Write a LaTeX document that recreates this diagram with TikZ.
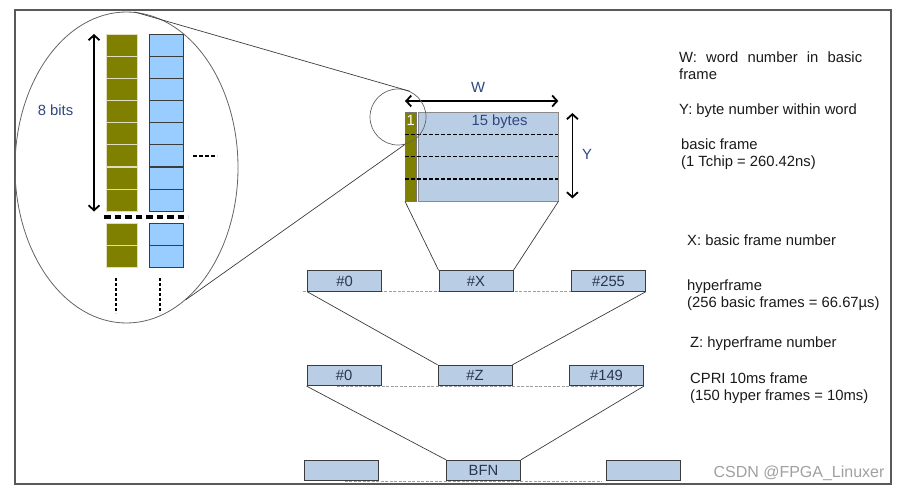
\documentclass[tikz,border=0pt]{standalone}
\usepackage{fontspec}
\setmainfont{Liberation Sans}
\usetikzlibrary{arrows.meta,shapes.geometric,backgrounds,calc}
\definecolor{cpOlive}{HTML}{808000}
\definecolor{cpSky}{HTML}{99CCFF}
\definecolor{cpFrame}{HTML}{B9CDE5}
\definecolor{cpEdge}{HTML}{3C3C3C}
\definecolor{cpInk}{HTML}{2E4780}
\definecolor{cpBoxInk}{HTML}{2A3550}
\definecolor{cpText}{HTML}{1A1A1A}
\definecolor{cpGrey}{HTML}{A0A0A0}
\tikzset{
  cpFont/.style={font=\fontsize{14.8}{17.5}\selectfont},
  oliveCell/.style={
    rectangle,
    draw=cpOlive!25!white,
    fill=cpOlive,
    line width=0.8pt,
    minimum width=31pt,
    minimum height=22pt,
    inner sep=0pt
  },
  skyCell/.style={
    oliveCell,
    draw=cpEdge,
    fill=cpSky,
    minimum width=34pt
  },
  frameBox/.style={
    rectangle,
    draw=cpEdge,
    fill=cpFrame,
    line width=0.8pt,
    minimum width=74pt,
    minimum height=20.5pt,
    inner sep=0pt,
    cpFont,
    text=cpBoxInk
  },
  dimArrow/.style={
    {Straight Barb[length=5pt,width=11pt]}-{Straight Barb[length=5pt,width=11pt]},
    line width=1.8pt,
    draw=black
  },
  zoomLine/.style={
    line width=0.7pt,
    draw=cpEdge
  },
  wordCut/.style={
    line width=1.3pt,
    dash pattern=on 4pt off 2pt
  },
  baseDash/.style={
    line width=0.9pt,
    draw=cpGrey,
    dash pattern=on 3pt off 1.5pt
  },
  noteText/.style={
    anchor=north west,
    inner sep=0pt,
    align=left,
    text=cpText,
    cpFont
  },
  inkLabel/.style={
    inner sep=0pt,
    text=cpInk,
    cpFont
  }
}

\begin{document}
\begin{tikzpicture}[x=1pt,y=-1pt]
  \useasboundingbox (0,0) rectangle (900,492);
  \draw[cpEdge!85, line width=1.2pt] (15,10) rectangle (891,484);

  % magnified view of the first word
  \node[ellipse, draw=cpEdge!80, line width=0.8pt, minimum width=223pt,
    minimum height=311pt, inner sep=0pt] (ell) at (126.5,167.5) {};
  \foreach \i in {0,...,7} {
    \node[oliveCell, anchor=north west] (olive\i) at (106,{34+22.1*\i}) {};
    \node[skyCell, anchor=north west] (sky\i) at (149,{34+22.1*\i}) {};
  }
  \foreach \i in {0,1} {
    \node[oliveCell, anchor=north west] (oliveLow\i) at (106,{223+22*\i}) {};
    \node[skyCell, anchor=north west] (skyLow\i) at (149,{223+22*\i}) {};
  }
  \draw[dimArrow] ([xshift=-12pt]olive0.north west) -- ([xshift=-12pt]olive7.south west);
  \node[inkLabel] (bitsLbl) at (55.5,110) {8 bits};

  \coordinate (cutL) at (104,217);
  \coordinate (cutR) at (188,217);
  \draw[line width=4.5pt, dash pattern=on 6.5pt off 4pt] (cutL) -- (cutR);

  \coordinate (moreL) at (193,156);
  \coordinate (moreR) at (217,156);
  \draw[line width=1.2pt, dash pattern=on 4pt off 2pt] (moreL) -- (moreR);
  \foreach \x in {116,160} {
    \draw[line width=1.3pt, dash pattern=on 3pt off 2pt] (\x,278) -- (\x,313);
  }

  % basic frame
  \node[rectangle, draw=cpEdge!70, fill=cpOlive, minimum width=11pt,
    minimum height=89pt, inner sep=0pt, anchor=north west] (strip) at (405,112) {};
  \node[rectangle, draw=cpEdge!60, fill=cpFrame, minimum width=140pt,
    minimum height=89pt, inner sep=0pt, anchor=north west] (bf) at (418,112) {};
  \node[anchor=north, inner sep=0pt, text=white, cpFont] (bitOne) at ([yshift=-3pt]strip.north) {1};
  \node[inkLabel] (bytesLbl) at (499.5,122) {15 bytes};
  \foreach \k in {1,2,3} {
    \draw[wordCut] ($(strip.north west)!\k/4!(strip.south west)$) -- ($(bf.north east)!\k/4!(bf.south east)$);
  }
  \draw[dimArrow] ([yshift=11pt]strip.north west) -- ([yshift=11pt]bf.north east);
  \node[inkLabel] (wLbl) at (478,87) {W};
  \draw[dimArrow] ([xshift=14pt,yshift=-1pt]bf.north east) -- ([xshift=14pt,yshift=3pt]bf.south east);
  \node[inkLabel] (yLbl) at (587,154) {Y};

  \node[circle, draw=cpEdge!80, line width=0.7pt, minimum size=56pt, inner sep=0pt] (circ) at (398,117) {};
  \draw[zoomLine] (ell.87) -- (circ.65);
  \draw[zoomLine] (ell.-66) -- (circ.-76);

  % hyperframe, 10ms frame, BFN rows
  \node[frameBox] (h0) at (344.5,281) {\#0};
  \node[frameBox] (hx) at (476,281) {\#X};
  \node[frameBox] (h255) at (608.5,281) {\#255};

  \node[frameBox] (c0) at (344,375.5) {\#0};
  \node[frameBox] (cz) at (475,375.5) {\#Z};
  \node[frameBox] (c149) at (606.5,375.5) {\#149};

  \node[frameBox] (b1) at (341,470.5) {};
  \node[frameBox] (bfn) at (483.5,470.5) {BFN};
  \node[frameBox] (b2) at (643.5,470.5) {};

  \begin{scope}[on background layer]
    \draw[baseDash] ([xshift=-4pt]h0.south west) -- (h255.south east);
    \draw[baseDash] ([xshift=30pt]c0.south west) -- ([xshift=-6pt]c149.south east);
    \draw[baseDash] ([xshift=41pt]b1.south west) -- ([xshift=-4pt]b2.south west);
  \end{scope}

  \draw[zoomLine] (strip.south west) -- (hx.north west);
  \draw[zoomLine] (bf.south east) -- (hx.north east);
  \draw[zoomLine] (h0.south west) -- (cz.north west);
  \draw[zoomLine] (h255.south east) -- (cz.north east);
  \draw[zoomLine] (c0.south west) -- (bfn.north west);
  \draw[zoomLine] (c149.south east) -- (bfn.north east);

  % notes
  \node[noteText, align=justify, text width=183pt] (noteW) at (679,51.5) {W: word number in basic frame};
  \node[noteText] (noteY) at (679,103.5) {Y: byte number within word};
  \node[noteText] (noteBasic) at (681,138.5) {basic frame\\(1 Tchip = 260.42ns)};
  \node[noteText] (noteX) at (687,234.5) {X: basic frame number};
  \node[noteText] (noteHyper) at (687,279.5) {hyperframe\\(256 basic frames = 66.67µs)};
  \node[noteText] (noteZ) at (690,336.5) {Z: hyperframe number};
  \node[noteText] (noteCpri) at (690,372.5) {CPRI 10ms frame\\(150 hyper frames = 10ms)};

  \node[inner sep=0pt, text=cpGrey, font=\fontsize{16}{18}\selectfont] (mark) at (799,473) {CSDN @FPGA\_Linuxer};
\end{tikzpicture}
\end{document}
